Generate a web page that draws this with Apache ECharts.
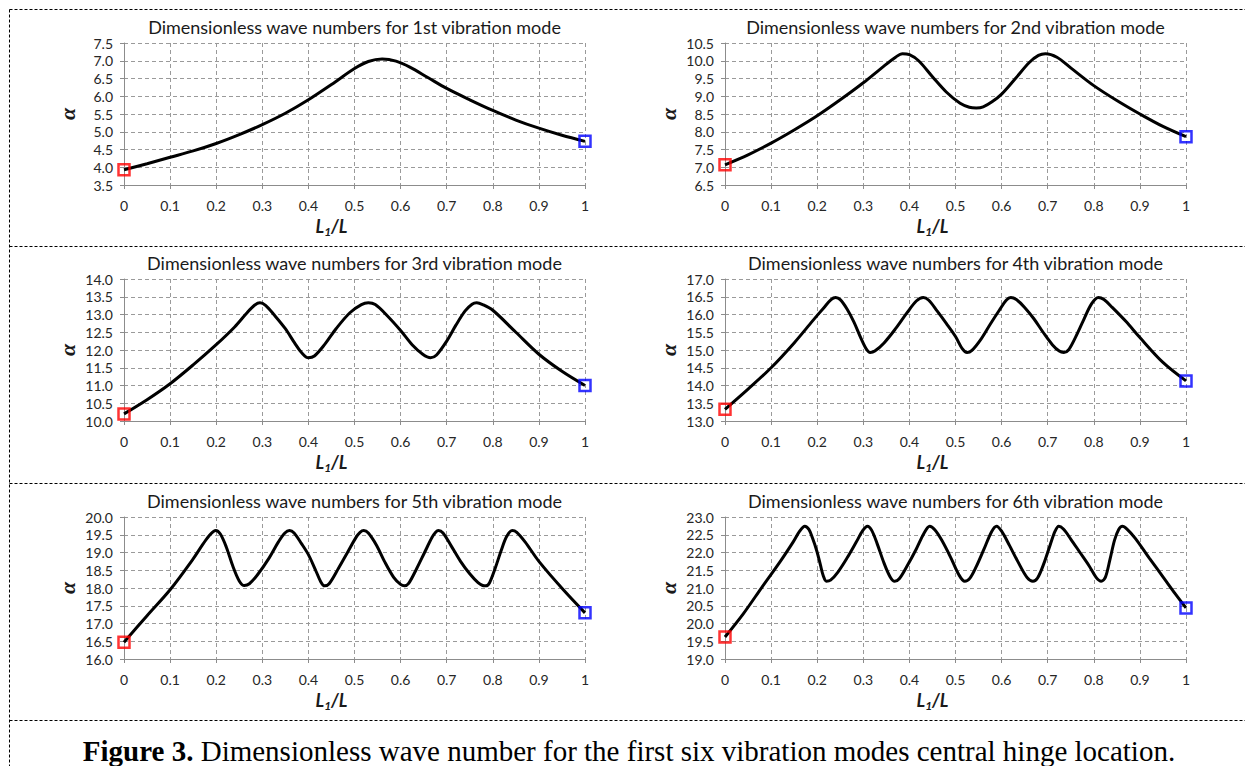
<!DOCTYPE html>
<html><head><meta charset="utf-8">
<script src="https://cdn.jsdelivr.net/npm/echarts@6/dist/echarts.min.js"></script>
<style>html,body{margin:0;padding:0;background:#fff}#c{width:1245px;height:766px}</style>
</head><body><div id="c"></div>
<script>
const titles = [
  'Dimensionless wave numbers for 1st vibration mode',
  'Dimensionless wave numbers for 2nd vibration mode',
  'Dimensionless wave numbers for 3rd vibration mode',
  'Dimensionless wave numbers for 4th vibration mode',
  'Dimensionless wave numbers for 5th vibration mode',
  'Dimensionless wave numbers for 6th vibration mode'
];
const yMins = [3.5, 6.5, 10, 13, 16, 19];
const yMaxs = [7.5, 10.5, 14, 17, 20, 23];
const yStep = 0.5;
const xStep = 0.1;

const mode1X = [0,0.05,0.1,0.15,0.2,0.25,0.3,0.35,0.4,0.45,0.5,0.53,0.56,0.59,0.62,0.66,0.7,0.75,0.8,0.85,0.9,0.95,1];
const mode1Y = [3.93,4.1,4.28,4.46,4.67,4.92,5.2,5.52,5.9,6.33,6.78,6.98,7.05,6.99,6.82,6.52,6.22,5.9,5.6,5.33,5.1,4.9,4.73];

const mode2X = [0,0.05,0.1,0.15,0.2,0.25,0.3,0.34,0.37,0.385,0.4,0.42,0.45,0.48,0.51,0.53,0.545,0.56,0.58,0.6,0.63,0.66,0.68,0.695,0.72,0.75,0.8,0.85,0.9,0.95,1];
const mode2Y = [7.07,7.35,7.68,8.05,8.45,8.9,9.38,9.8,10.1,10.2,10.17,10.0,9.55,9.12,8.8,8.69,8.67,8.7,8.85,9.06,9.5,9.95,10.15,10.2,10.1,9.8,9.3,8.88,8.5,8.15,7.86];

const mode3X = [0,0.05,0.1,0.15,0.2,0.24,0.265,0.283,0.295,0.307,0.325,0.35,0.37,0.385,0.4,0.413,0.435,0.46,0.49,0.515,0.53,0.545,0.57,0.6,0.625,0.648,0.665,0.678,0.7,0.72,0.74,0.755,0.765,0.778,0.8,0.85,0.9,0.95,1];
const mode3Y = [10.2,10.6,11.05,11.58,12.15,12.65,13.02,13.26,13.33,13.26,13.0,12.6,12.2,11.93,11.78,11.83,12.15,12.6,13.05,13.28,13.33,13.28,12.98,12.55,12.15,11.88,11.78,11.86,12.25,12.7,13.1,13.29,13.33,13.28,13.12,12.5,11.88,11.4,11.0];

const mode4X = [0,0.05,0.1,0.15,0.19,0.215,0.23,0.24,0.25,0.265,0.28,0.295,0.307,0.315,0.325,0.345,0.37,0.395,0.415,0.43,0.442,0.46,0.48,0.5,0.515,0.525,0.535,0.555,0.575,0.595,0.61,0.62,0.632,0.65,0.67,0.69,0.71,0.725,0.735,0.745,0.76,0.778,0.795,0.81,0.822,0.84,0.87,0.9,0.95,1];
const mode4Y = [13.33,13.9,14.5,15.2,15.82,16.2,16.42,16.48,16.42,16.15,15.78,15.33,15.02,14.93,14.97,15.2,15.6,16.05,16.38,16.48,16.4,16.1,15.75,15.38,15.03,14.93,14.98,15.3,15.72,16.12,16.4,16.48,16.42,16.2,15.88,15.5,15.15,14.97,14.93,15.0,15.35,15.85,16.3,16.48,16.42,16.2,15.8,15.35,14.65,14.13];

const mode5X = [0,0.05,0.1,0.15,0.172,0.188,0.199,0.209,0.222,0.236,0.25,0.261,0.272,0.29,0.315,0.335,0.349,0.359,0.369,0.385,0.4,0.415,0.427,0.435,0.445,0.465,0.486,0.503,0.512,0.52,0.53,0.548,0.565,0.585,0.6,0.608,0.617,0.635,0.652,0.668,0.676,0.682,0.692,0.71,0.73,0.75,0.768,0.778,0.785,0.793,0.805,0.818,0.83,0.842,0.852,0.87,0.9,0.953,1];
const mode5Y = [16.47,17.22,17.95,18.82,19.25,19.52,19.62,19.52,19.15,18.62,18.2,18.07,18.12,18.38,18.85,19.3,19.55,19.62,19.55,19.25,18.94,18.52,18.17,18.06,18.12,18.55,19.03,19.42,19.57,19.62,19.55,19.2,18.75,18.3,18.1,18.06,18.12,18.55,19.0,19.42,19.57,19.62,19.55,19.18,18.75,18.4,18.15,18.07,18.06,18.15,18.55,19.05,19.45,19.62,19.57,19.3,18.75,17.95,17.3];

const mode6X = [0,0.04,0.08,0.12,0.148,0.162,0.173,0.182,0.19,0.199,0.207,0.213,0.22,0.229,0.245,0.265,0.285,0.299,0.309,0.318,0.33,0.345,0.358,0.368,0.378,0.395,0.415,0.432,0.444,0.455,0.47,0.49,0.507,0.52,0.531,0.545,0.562,0.578,0.589,0.6,0.617,0.635,0.655,0.668,0.678,0.692,0.705,0.716,0.724,0.734,0.75,0.77,0.79,0.805,0.816,0.825,0.835,0.845,0.854,0.862,0.872,0.89,0.92,0.952,0.976,1];
const mode6Y = [19.62,20.28,21.02,21.75,22.3,22.6,22.74,22.65,22.4,22.05,21.65,21.35,21.19,21.22,21.45,21.85,22.3,22.62,22.74,22.63,22.25,21.7,21.32,21.19,21.26,21.62,22.1,22.55,22.74,22.64,22.35,21.85,21.38,21.19,21.27,21.6,22.1,22.58,22.74,22.6,22.2,21.75,21.3,21.19,21.28,21.7,22.2,22.6,22.74,22.66,22.38,22.0,21.62,21.3,21.19,21.3,21.8,22.35,22.65,22.74,22.66,22.4,21.85,21.28,20.85,20.44];

const modesX = [mode1X, mode2X, mode3X, mode4X, mode5X, mode6X];
const modesY = [mode1Y, mode2Y, mode3Y, mode4Y, mode5Y, mode6Y];

const colLefts = [124, 725];
const rowTops = [43, 279, 517];
const gw = 461, gh = 142;
const FONT = 'Lato, "Open Sans", sans-serif';
const gridColor = '#9a9a9a';
const axisColor = '#8c8c8c';

const grids = [], xAxes = [], yAxes = [], series = [], titleArr = [];
for (let i = 0; i < 6; i++) {
  const col = i % 2, row = Math.floor(i / 2);
  const left = colLefts[col], top = rowTops[row];
  grids.push({left: left, top: top, width: gw, height: gh, containLabel: false});
  titleArr.push({
    text: titles[i], left: left + gw / 2, top: top - 25, textAlign: 'center', padding: 0,
    textStyle: {fontFamily: FONT, fontSize: 18, fontWeight: 'normal', color: '#1a1a1a'}
  });
  xAxes.push({
    type: 'value', gridIndex: i, min: 0, max: 1, interval: xStep,
    name: '{m|L}{s|1}{m|/L}', nameLocation: 'middle', nameGap: 30,
    nameTextStyle: {padding: [0, 46, 0, 0], rich: {
      m: {fontFamily: FONT, fontSize: 18, fontWeight: 'bold', fontStyle: 'italic', color: '#1a1a1a', lineHeight: 22, verticalAlign: 'middle'},
      s: {fontFamily: FONT, fontSize: 12, fontWeight: 'bold', fontStyle: 'italic', color: '#1a1a1a', lineHeight: 22, verticalAlign: 'bottom'}
    }},
    axisLine: {show: true, lineStyle: {color: axisColor, width: 1}},
    axisTick: {show: true, length: 4, lineStyle: {color: axisColor}},
    axisLabel: {fontFamily: FONT, fontSize: 14, color: '#262626', margin: 13,
      formatter: v => (v === 0 || v === 1) ? String(v) : v.toFixed(1)},
    splitLine: {show: true, lineStyle: {color: gridColor, type: [4, 3], width: 1}}
  });
  yAxes.push({
    type: 'value', gridIndex: i, min: yMins[i], max: yMaxs[i], interval: yStep,
    name: 'α', nameLocation: 'middle', nameGap: 46,
    nameTextStyle: {fontFamily: '"Liberation Serif", "DejaVu Serif", serif', fontSize: 22, fontWeight: 'bold', fontStyle: 'italic', color: '#1a1a1a'},
    axisLine: {show: true, lineStyle: {color: axisColor, width: 1}},
    axisTick: {show: true, length: 4, lineStyle: {color: axisColor}},
    axisLabel: {fontFamily: FONT, fontSize: 14, color: '#262626', margin: 11,
      formatter: v => v.toFixed(1)},
    splitLine: {show: true, lineStyle: {color: gridColor, type: [4, 3], width: 1}}
  });
  const pts = modesX[i].map((x, k) => [x, modesY[i][k]]);
  series.push({
    type: 'line', xAxisIndex: i, yAxisIndex: i, data: pts, smooth: 0.33,
    showSymbol: false, symbol: 'none', lineStyle: {color: '#000', width: 3}, z: 3, silent: true
  });
  series.push({
    type: 'scatter', xAxisIndex: i, yAxisIndex: i, data: [pts[0]], symbol: 'rect', symbolSize: 11,
    itemStyle: {color: 'rgba(0,0,0,0)', borderColor: '#ff0000', borderWidth: 2.5}, z: 4, silent: true
  });
  series.push({
    type: 'scatter', xAxisIndex: i, yAxisIndex: i, data: [pts[pts.length - 1]], symbol: 'rect', symbolSize: 11,
    itemStyle: {color: 'rgba(0,0,0,0)', borderColor: '#0000ff', borderWidth: 2.5}, z: 4, silent: true
  });
}

const dash = {stroke: '#000', lineWidth: 1, lineDash: [3, 2]};
const SERIF = '"Liberation Serif", "Times New Roman", serif';
const graphics = [
  {type: 'line', shape: {x1: 9.5, y1: 9.5, x2: 1245, y2: 9.5}, style: dash, silent: true},
  {type: 'line', shape: {x1: 9.5, y1: 9.5, x2: 9.5, y2: 766}, style: dash, silent: true},
  {type: 'line', shape: {x1: 9.5, y1: 246.5, x2: 1245, y2: 246.5}, style: dash, silent: true},
  {type: 'line', shape: {x1: 9.5, y1: 483.5, x2: 1245, y2: 483.5}, style: dash, silent: true},
  {type: 'line', shape: {x1: 9.5, y1: 720.5, x2: 1245, y2: 720.5}, style: dash, silent: true},
  {type: 'text', x: 629, y: 751, silent: true, style: {
    text: '{b|Figure 3.}{n| Dimensionless wave number for the first six vibration modes central hinge location.}',
    align: 'center', verticalAlign: 'middle',
    fontFamily: SERIF, fontSize: 29, fill: '#000',
    rich: {
      b: {fontWeight: 'bold', fontFamily: SERIF, fontSize: 29, fill: '#000'},
      n: {fontWeight: 'normal', fontFamily: SERIF, fontSize: 29, fill: '#000'}
    }
  }}
];

const chart = echarts.init(document.getElementById('c'), null, {renderer: 'svg', width: 1245, height: 766});
chart.setOption({
  animation: false,
  backgroundColor: '#fff',
  title: titleArr,
  grid: grids,
  xAxis: xAxes,
  yAxis: yAxes,
  series: series,
  graphic: graphics
});
</script></body></html>
